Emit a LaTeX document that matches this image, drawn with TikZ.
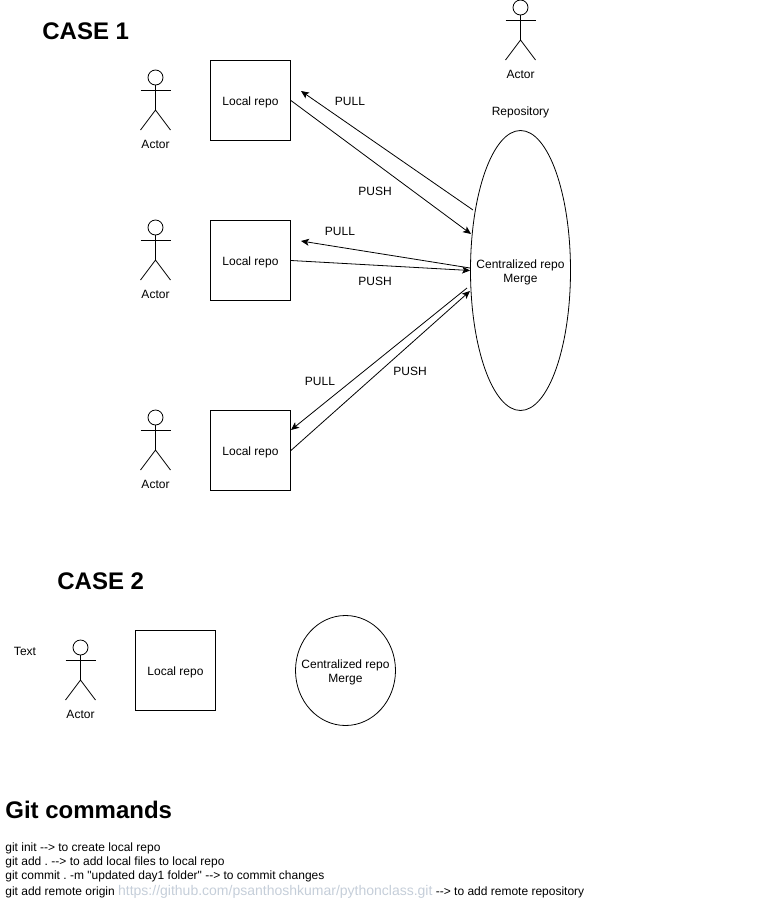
\documentclass[tikz,border=0pt]{standalone}
\usepackage{fontspec}
\setmainfont{Liberation Sans}
\newfontfamily\cmdfont{Liberation Sans}
\usetikzlibrary{shapes.geometric, arrows.meta}

\definecolor{linkgray}{HTML}{C5CED9}

\tikzset{
	smalltext/.style={font=\fontsize{12}{14}\selectfont, inner sep=0pt, align=center},
	headtext/.style={font=\fontsize{24}{28}\selectfont\bfseries, inner sep=0pt, anchor=west},
	cmdtext/.style={font=\cmdfont\fontsize{12}{14}\selectfont\frenchspacing, inner sep=0pt, anchor=base west},
	repobox/.style={draw, minimum width=80pt, minimum height=80pt, smalltext, text height=10pt, text depth=0pt},
	repoellipse/.style={draw, ellipse, inner sep=0pt, label={[smalltext, yshift=-1.5pt]center:Centralized repo\\Merge}},
	flow/.style={-{Stealth[length=8pt, width=7pt, inset=2pt]}, black},
	pics/actor/.style={code={
		\draw (0,7.5) circle (7.5pt);
		\draw (0,15) -- (0,40);
		\draw (-15,20) -- (15,20);
		\draw (-15,60) -- (0,40) -- (15,60);
		\node[smalltext] (#1) at (0,74) {Actor};
	}}
}

\begin{document}
\begin{tikzpicture}[x=1pt, y=-1pt, line width=0.8pt]
	\useasboundingbox (0,0) rectangle (761,911);

	% headings
	\node[headtext] (caseone) at (42,31) {CASE 1};
	\node[headtext] (casetwo) at (57,581) {CASE 2};
	\node[headtext] (gitcmds) at (5,810) {Git commands};

	% actors
	\foreach \name/\x/\y in {actorA/155.5/70, actorB/155.5/220, actorC/155.5/410, actorD/80.5/640, actorE/520.5/0}
		\pic at (\x,\y) {actor=\name};

	% local repos
	\foreach \name/\x/\y in {localA/250.5/100.5, localB/250.5/260.5, localC/250.5/450.5, localD/175.5/670.5}
		\node[repobox] (\name) at (\x,\y) {Local repo};

	% central repos
	\node[repoellipse, minimum width=100pt, minimum height=280pt] (central) at (520.5,270.5) {};
	\node[repoellipse, minimum width=100pt, minimum height=110pt] (centraltwo) at (345.5,670.5) {};
	\node[smalltext] (repolabel) at (520.5,112) {Repository};
	\node[smalltext] (textlabel) at (25,651) {Text};

	% free ends of the connectors
	\coordinate (pullAstart) at (473,210);
	\coordinate (pullAend) at (301,91);
	\coordinate (pushAend) at (471,234);
	\coordinate (pullBstart) at (470,268);
	\coordinate (pullBend) at (301,241);
	\coordinate (pullCstart) at (467,288);
	\coordinate (pullCend) at (291,430);
	\coordinate (pushCend) at (470,291);

	\draw[flow] (pullAstart) -- (pullAend);
	\draw[flow] (localA.east) -- (pushAend);
	\draw[flow] (pullBstart) -- (pullBend);
	\draw[flow] (localB.east) -- (central.west);
	\draw[flow] (pullCstart) -- (pullCend);
	\draw[flow] (localC.east) -- (pushCend);

	% connector labels
	\foreach \name/\txt/\x/\y in {lblA/PULL/350/101, lblB/PUSH/375/191, lblC/PULL/340/231, lblD/PUSH/375/281, lblE/PULL/320/381, lblF/PUSH/410/371}
		\node[smalltext] (\name) at (\x,\y) {\txt};

	% commands
	\node[cmdtext] (cmdA) at (5,851) {git init --> to create local repo};
	\node[cmdtext] (cmdB) at (5,865) {git add . --> to add local files to local repo};
	\node[cmdtext] (cmdC) at (5,879) {git commit . -m "updated day1 folder" --> to commit changes};
	\node[cmdtext] (cmdD) at (5,895) {git add remote origin {\fontsize{14}{14}\selectfont\textcolor{linkgray}{https://github.com/psanthoshkumar/pythonclass.git}} --> to add remote repository};
\end{tikzpicture}
\end{document}
